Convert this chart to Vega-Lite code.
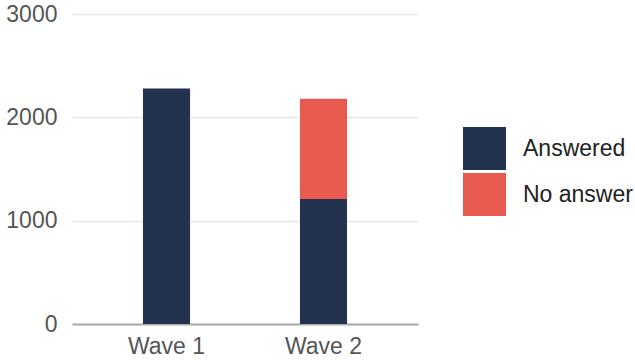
{
  "$schema": "https://vega.github.io/schema/vega-lite/v6.json",
  "width": 346,
  "height": 310,
  "autosize": "none",
  "padding": {"left": 72, "top": 14, "right": 217, "bottom": 36},
  "config": {"view": {"stroke": null}, "font": "Liberation Sans"},
  "data": {
    "values": [
      {"wave": "Wave 1", "status": "Answered", "count": 2280},
      {"wave": "Wave 2", "status": "Answered", "count": 1210},
      {"wave": "Wave 2", "status": "No answer", "count": 970}
    ]
  },
  "mark": {"type": "bar"},
  "encoding": {
    "x": {
      "field": "wave", "type": "nominal", "title": null,
      "scale": {"paddingInner": 0.7, "paddingOuter": 0.452},
      "axis": {"labelAngle": 0, "labelFontSize": 23, "labelColor": "#555555", "ticks": false, "domainColor": "#aaaaaa", "domainWidth": 2, "labelPadding": 11}
    },
    "y": {
      "field": "count", "type": "quantitative", "stack": "zero",
      "scale": {"domain": [0, 3000]},
      "axis": {"values": [0, 1000, 2000, 3000], "format": "d", "title": null, "domain": false, "ticks": false, "labelFontSize": 23, "labelColor": "#555555", "labelPadding": 15, "gridColor": "#e6e6e6", "gridWidth": 1.5}
    },
    "order": {"field": "status", "sort": "ascending"},
    "color": {
      "field": "status", "type": "nominal",
      "scale": {"domain": ["Answered", "No answer"], "range": ["#22324F", "#E85A50"]},
      "legend": {"title": null, "orient": "none", "legendX": 391, "legendY": 113, "symbolType": "square", "symbolSize": 1849, "symbolStrokeWidth": 0, "symbolOpacity": 1, "labelFontSize": 23, "labelColor": "#222222", "rowPadding": 3, "labelOffset": 17}
    }
  }
}
